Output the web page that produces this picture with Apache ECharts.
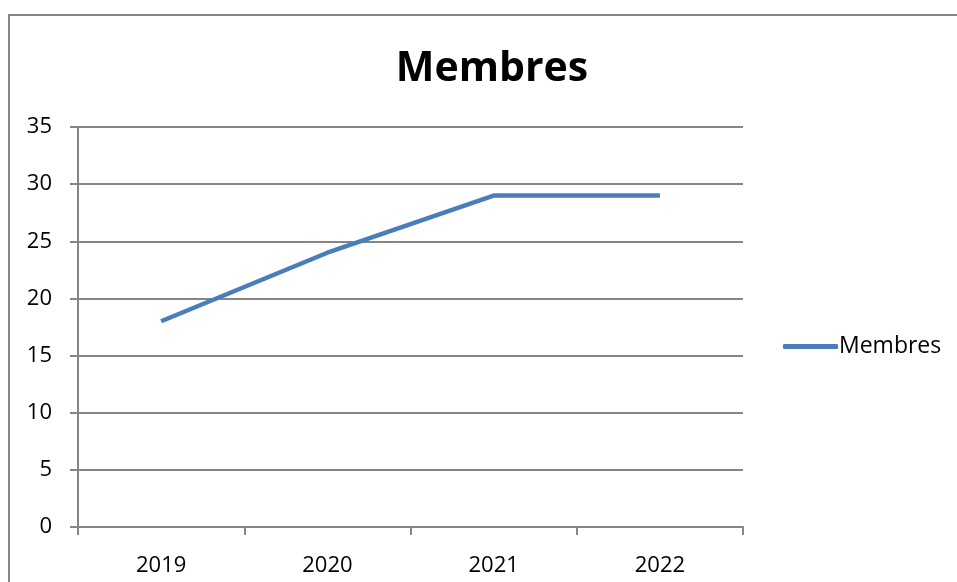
<!DOCTYPE html>
<html>
<head>
<meta charset="utf-8">
<script src="https://cdn.jsdelivr.net/npm/echarts@6/dist/echarts.min.js"></script>
<style>
  html, body { margin: 0; padding: 0; background: #fff; }
  #chart { width: 957px; height: 582px; }
</style>
</head>
<body>
<div id="chart"></div>
<script>
const years = ['2019', '2020', '2021', '2022']
const membres = [18, 24, 29, 29]
const seriesName = 'Membres'

const gridColor = '#868686'
const lineColor = '#4a7ebb'
const font = '"Open Sans", "Liberation Sans", sans-serif'

const chart = echarts.init(document.getElementById('chart'))

chart.setOption({
  backgroundColor: '#fff',
  animation: false,
  title: {
    text: 'Membres',
    left: 487,
    textAlign: 'center',
    top: 44,
    textStyle: { fontFamily: font, fontSize: 41, fontWeight: 'bold', color: '#000' },
  },
  graphic: [
    {
      type: 'rect',
      shape: { x: 9, y: 15, width: 1000, height: 700 },
      style: { fill: 'none', stroke: gridColor, lineWidth: 2 },
      silent: true,
    },
  ],
  legend: {
    data: [seriesName],
    left: 783,
    top: 335,
    padding: 0,
    icon: 'roundRect',
    itemWidth: 55,
    itemHeight: 5,
    itemGap: 0,
    textStyle: { fontFamily: font, fontSize: 23, color: '#000', padding: [0, 0, 0, -4] },
  },
  grid: { left: 78, right: 214, top: 127, bottom: 55 },
  xAxis: {
    type: 'category',
    data: years,
    boundaryGap: true,
    axisLine: { lineStyle: { color: gridColor, width: 2 } },
    axisTick: { show: true, length: 8, lineStyle: { color: gridColor, width: 2 } },
    axisLabel: { fontFamily: font, fontSize: 22, color: '#000', margin: 28 },
  },
  yAxis: {
    type: 'value',
    min: 0,
    max: 35,
    interval: 5,
    axisLine: { show: true, lineStyle: { color: gridColor, width: 2 } },
    axisTick: { show: true, length: 8, lineStyle: { color: gridColor, width: 2 } },
    splitLine: { show: true, lineStyle: { color: gridColor, width: 2 } },
    axisLabel: { fontFamily: font, fontSize: 22, color: '#000', margin: 26 },
  },
  series: [
    {
      name: seriesName,
      type: 'line',
      data: membres,
      showSymbol: false,
      symbol: 'none',
      lineStyle: { color: lineColor, width: 4.5 },
      itemStyle: { color: lineColor },
    },
  ],
})
</script>
</body>
</html>
